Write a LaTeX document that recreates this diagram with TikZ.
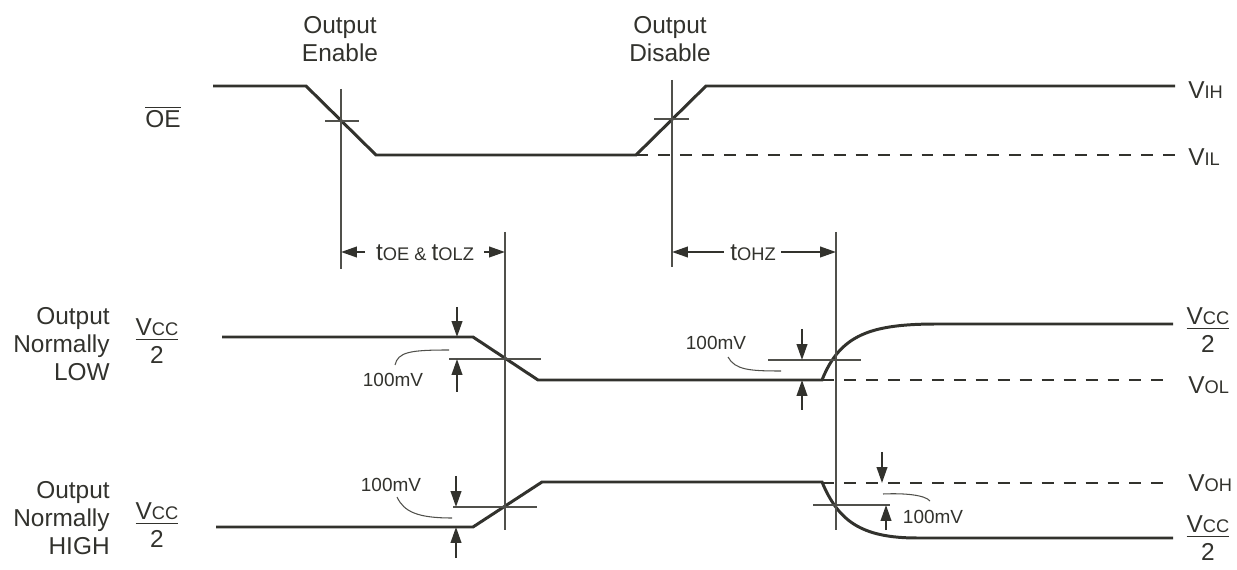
\documentclass[tikz,border=0pt]{standalone}
\usepackage{amsmath}
\usepackage{fontspec}
\setmainfont{Liberation Sans}
\usepackage{tikz}
\usetikzlibrary{arrows.meta}
\definecolor{ink}{RGB}{50,50,45}
\definecolor{thinink}{RGB}{80,80,75}
\newcommand{\subtxt}[1]{{\fontsize{10.4pt}{12pt}\selectfont #1}}
\newcommand{\vccfrac}{\underline{V\subtxt{CC}}\\2}
\tikzstyle{wave} = [line width=1.7pt, ink]
\tikzstyle{dashwave} = [wave, dash pattern=on 6.8pt off 5.7pt]
\tikzstyle{guide} = [line width=0.6pt, thinink]
\tikzstyle{arrow} = [line width=1.1pt, ink, -{Triangle[length=9pt,width=6pt]}]
\tikzstyle{txt} = [inner sep=0pt, text=ink, align=center, font=\fontsize{13.9pt}{16pt}\selectfont]
\tikzstyle{smalltxt} = [inner sep=0pt, text=ink, font=\fontsize{10.8pt}{13pt}\selectfont]

\begin{document}
\begin{tikzpicture}[x=0.02cm, y=-0.02cm]

   \useasboundingbox (0,0) rectangle (1237,570);

   % OE signal
   \draw[wave] (213,86) -- (306,86) -- (376,155) -- (636,155) -- (706,86) -- (1175,86);
   \draw[dashwave] (636,155) -- (1175,155);

   % Output normally LOW
   \draw[wave] (222,337) -- (473,337) -- (538,380) -- (822,380)
      .. controls (840,335) and (870,324) .. (937,324) -- (1173,324);
   \draw[dashwave] (822,380) -- (1173,380);

   % Output normally HIGH
   \draw[wave] (216,527) -- (473,527) -- (542,482) -- (822,482)
      .. controls (838,520) and (860,538) .. (917,538) -- (1173,538);
   \draw[dashwave] (822,483) -- (1173,483);

   % Reference lines
   \draw[guide] (341,89) -- (341,269);
   \draw[guide] (672,80) -- (672,267);
   \draw[guide] (505,232) -- (505,530);
   \draw[guide] (836,232) -- (836,530);

   % Crossing marks
   \draw[guide] (325,121) -- (359,121);
   \draw[guide] (654,119) -- (689,119);
   \draw[guide] (449,359) -- (541,359);
   \draw[guide] (453,507) -- (537,507);
   \draw[guide] (768,360) -- (861,360);
   \draw[guide] (813,505) -- (890,505);

   % Timing arrows
   \draw[arrow] (365,252) -- (341,252);
   \draw[arrow] (484,252) -- (505,252);
   \draw[arrow] (724,252) -- (672,252);
   \draw[arrow] (781,252) -- (836,252);

   % 100mV arrows
   \draw[arrow] (457,307) -- (457,337);
   \draw[arrow] (457,392) -- (457,359);
   \draw[arrow] (456,476) -- (456,507);
   \draw[arrow] (456,558) -- (456,527);
   \draw[arrow] (802,329) -- (802,360);
   \draw[arrow] (802,410) -- (802,380);
   \draw[arrow] (882,452) -- (882,483);
   \draw[arrow] (886,530) -- (886,505);

   % Leaders to 100mV labels
   \draw[guide] (395,365) .. controls (398,352) and (410,350) .. (449,350);
   \draw[guide] (397,497) .. controls (404,512) and (418,518) .. (452,518);
   \draw[guide] (728,357) .. controls (735,370) and (750,371) .. (781,371);
   \draw[guide] (883,494) .. controls (905,493) and (925,495) .. (930,501);

   % Labels
   \node[txt] (enable) at (340,39) {Output\\Enable};
   \node[txt] (disable) at (670,39) {Output\\Disable};
   \node[txt] (oe) at (163,117) {$\overline{\text{OE}}$};
   \node[txt, anchor=west] (vih) at (1188,90) {V\subtxt{IH}};
   \node[txt, anchor=west] (vil) at (1188,157) {V\subtxt{IL}};
   \node[txt] (toe) at (425,253) {t\subtxt{OE \& }t\subtxt{OLZ}};
   \node[txt] (tohz) at (753,253) {t\subtxt{OHZ}};

   \node[txt, anchor=east, align=right] (outlow) at (110,344) {Output\\Normally\\LOW};
   \node[txt, anchor=east, align=right] (outhigh) at (110,518) {Output\\Normally\\HIGH};
   \node[txt] (vccl1) at (157,341) {\vccfrac};
   \node[txt] (vccl2) at (157,525) {\vccfrac};
   \node[txt] (vccr1) at (1208,330) {\vccfrac};
   \node[txt] (vccr2) at (1208,538) {\vccfrac};
   \node[txt, anchor=west] (vol) at (1188,385) {V\subtxt{OL}};
   \node[txt, anchor=west] (voh) at (1188,483) {V\subtxt{OH}};

   \node[smalltxt] (mv1) at (393,380) {100mV};
   \node[smalltxt] (mv2) at (391,485) {100mV};
   \node[smalltxt] (mv3) at (716,343) {100mV};
   \node[smalltxt] (mv4) at (933,517) {100mV};

\end{tikzpicture}
\end{document}
